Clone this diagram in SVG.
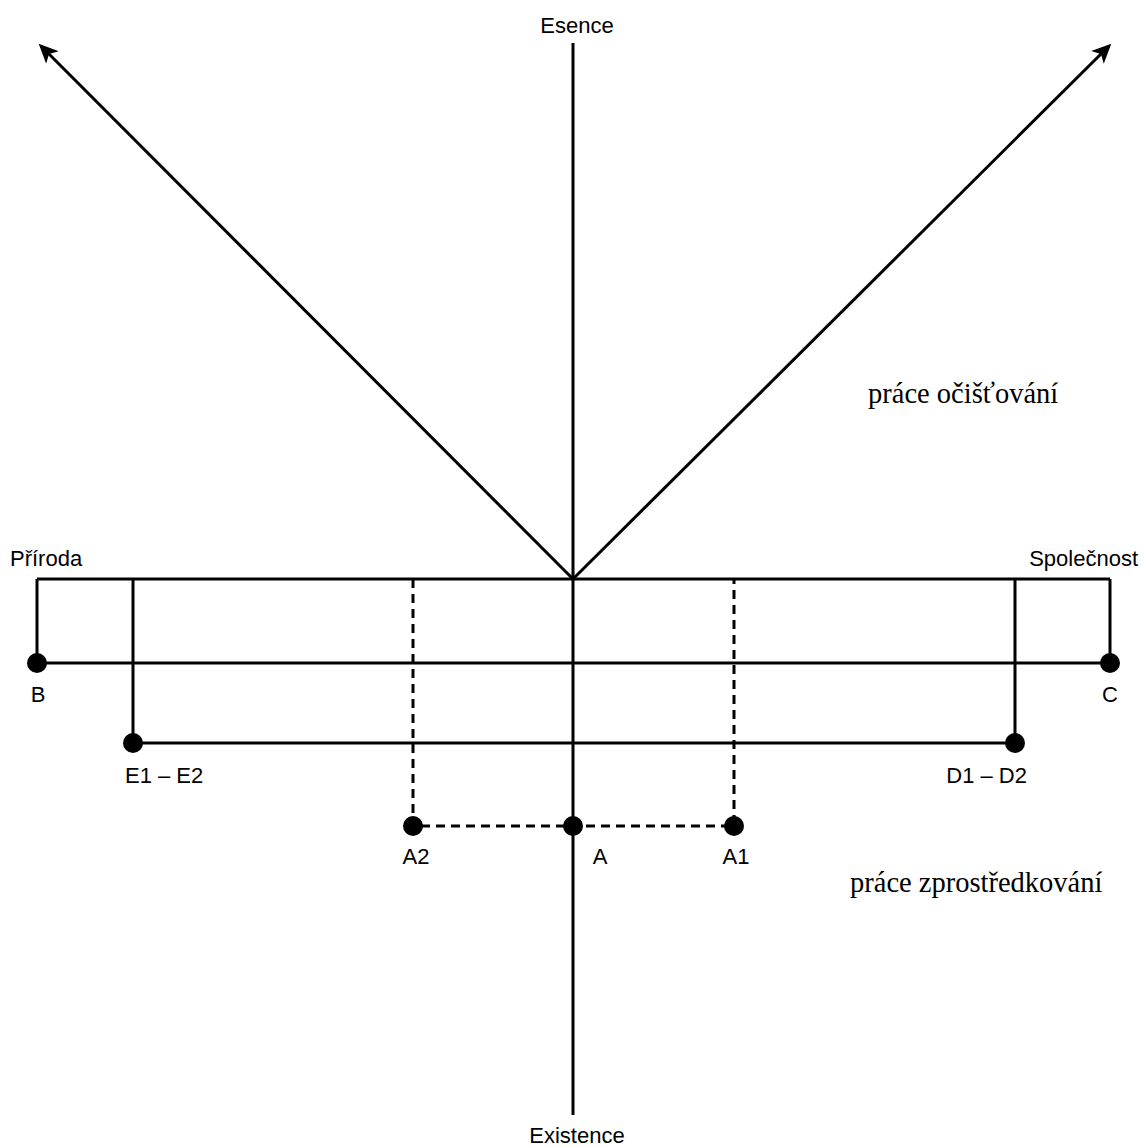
<svg xmlns="http://www.w3.org/2000/svg" width="1141" height="1147" viewBox="0 0 1141 1147">
<style>
.l{stroke:#000;stroke-width:3;fill:none}
.d{stroke:#000;stroke-width:3;fill:none;stroke-dasharray:9 6}
.t{font-family:"Liberation Sans",Arial,sans-serif;font-size:22px;fill:#000}
.s{font-family:"Liberation Serif","Times New Roman",serif;font-size:28.5px;fill:#000}
.p{fill:#000}
</style>
<defs>
<marker id="ah" viewBox="0 0 12 12" refX="10" refY="6" markerWidth="6.5" markerHeight="6.5" orient="auto" markerUnits="strokeWidth">
<path d="M0,0.5 L12,6 L0,11.5 L3,6 z" fill="#000"/>
</marker>
</defs>
<rect width="1141" height="1147" fill="#fff"/>
<g id="connectors">
<line class="l" x1="573" y1="43" x2="573" y2="1115"/>
<line class="l" x1="573" y1="579" x2="41" y2="46" marker-end="url(#ah)"/>
<line class="l" x1="573" y1="579" x2="1109" y2="46" marker-end="url(#ah)"/>
<line class="l" x1="37" y1="579" x2="1110" y2="579"/>
<polyline class="l" points="37,579 37,663 1110,663 1110,579"/>
<polyline class="l" points="133,579 133,743 1015,743 1015,579"/>
<polyline class="d" points="413,579 413,826 734,826 734,579"/>
</g>
<g id="esence"><text class="t" x="577" y="33" text-anchor="middle">Esence</text></g>
<g id="existence"><text class="t" x="577" y="1143" text-anchor="middle">Existence</text></g>
<g id="priroda"><text class="t" x="10" y="566">Příroda</text></g>
<g id="spolecnost"><text class="t" x="1138" y="566" text-anchor="end">Společnost</text></g>
<g id="B"><circle class="p" cx="37" cy="663" r="10"/><text class="t" x="38" y="702" text-anchor="middle">B</text></g>
<g id="C"><circle class="p" cx="1110" cy="663" r="10"/><text class="t" x="1110" y="702" text-anchor="middle">C</text></g>
<g id="E"><circle class="p" cx="133" cy="743" r="10"/><text class="t" x="125" y="783">E1 – E2</text></g>
<g id="D"><circle class="p" cx="1015" cy="743" r="10"/><text class="t" x="1027" y="783" text-anchor="end">D1 – D2</text></g>
<g id="A2"><circle class="p" cx="413" cy="826" r="10"/><text class="t" x="416" y="864" text-anchor="middle">A2</text></g>
<g id="A"><circle class="p" cx="573" cy="826" r="10"/><text class="t" x="600" y="864" text-anchor="middle">A</text></g>
<g id="A1"><circle class="p" cx="734" cy="826" r="10"/><text class="t" x="736" y="864" text-anchor="middle">A1</text></g>
<g id="ocistovani"><text class="s" x="868" y="403">práce očišťování</text></g>
<g id="zprostredkovani"><text class="s" x="850" y="892">práce zprostředkování</text></g>
</svg>
